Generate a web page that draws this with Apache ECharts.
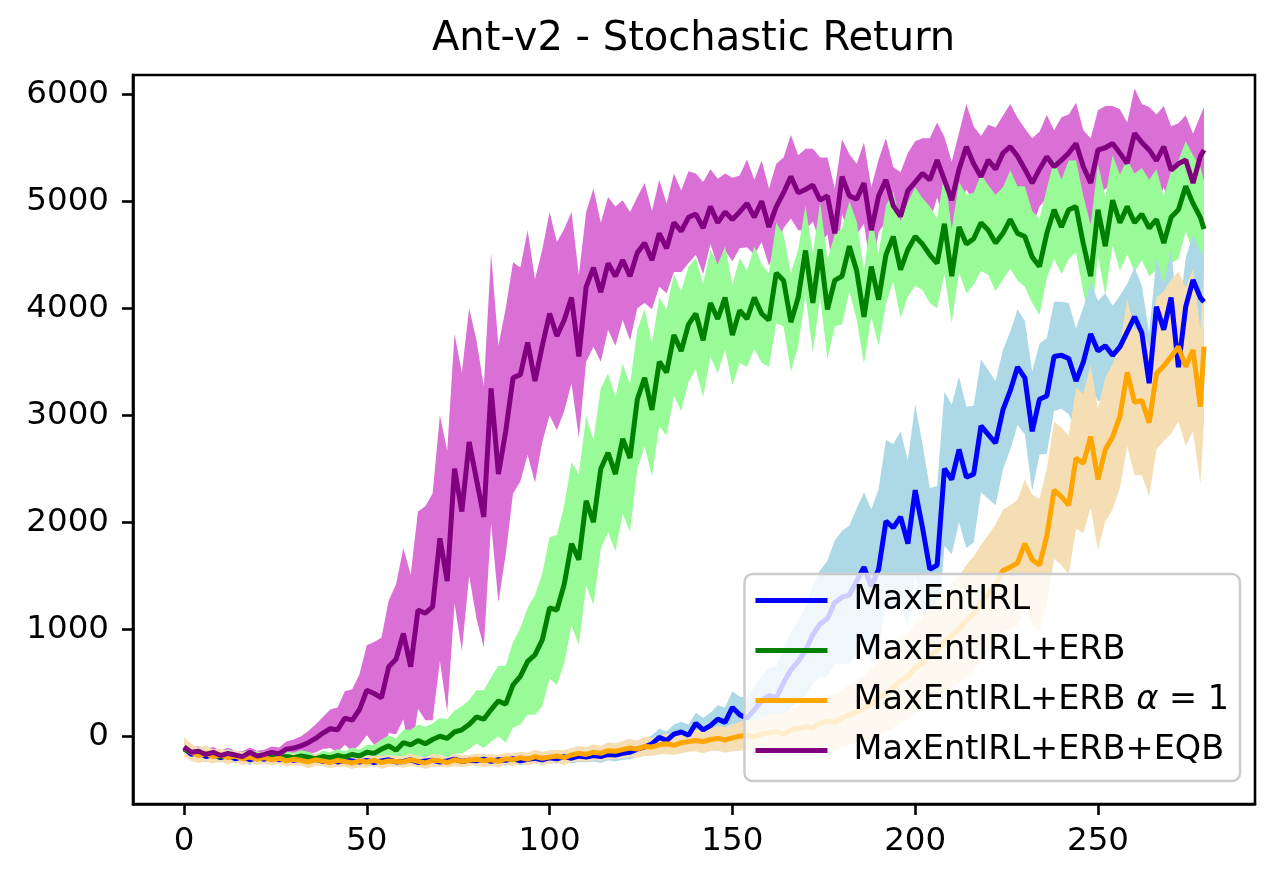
<!DOCTYPE html>
<html>
<head>
<meta charset="utf-8">
<title>Ant-v2 - Stochastic Return</title>
<script src="https://cdn.jsdelivr.net/npm/echarts@6/dist/echarts.min.js"></script>
<style>
  html, body { margin: 0; padding: 0; background: #fff; }
  #chart { width: 1280px; height: 885px; }
</style>
</head>
<body>
<div id="chart"></div>
<script>
// Training iterations (every second one, plus the last)
const steps = [
  0, 2, 4, 6, 8, 10, 12, 14, 16, 18, 20, 22, 24, 26, 28, 30, 32, 34, 36, 38,
  40, 42, 44, 46, 48, 50, 52, 54, 56, 58, 60, 62, 64, 66, 68, 70, 72, 74, 76, 78,
  80, 82, 84, 86, 88, 90, 92, 94, 96, 98, 100, 102, 104, 106, 108, 110, 112, 114, 116, 118,
  120, 122, 124, 126, 128, 130, 132, 134, 136, 138, 140, 142, 144, 146, 148, 150, 152, 154, 156, 158,
  160, 162, 164, 166, 168, 170, 172, 174, 176, 178, 180, 182, 184, 186, 188, 190, 192, 194, 196, 198,
  200, 202, 204, 206, 208, 210, 212, 214, 216, 218, 220, 222, 224, 226, 228, 230, 232, 234, 236, 238,
  240, 242, 244, 246, 248, 250, 252, 254, 256, 258, 260, 262, 264, 266, 268, 270, 272, 274, 276, 278, 279
];
const xTicks = [0, 50, 100, 150, 200, 250];
const yTicks = [0, 1000, 2000, 3000, 4000, 5000, 6000];

const names = ['MaxEntIRL', 'MaxEntIRL+ERB', 'MaxEntIRL+ERB alpha=1', 'MaxEntIRL+ERB+EQB'];

// MaxEntIRL
const meanBase = [
  -110, -170, -150, -190, -170, -200, -180, -210, -190, -220,
  -200, -215, -190, -220, -205, -225, -210, -230, -215, -235,
  -220, -240, -225, -230, -240, -225, -245, -230, -220, -240,
  -235, -220, -245, -230, -225, -240, -230, -215, -235, -225,
  -230, -215, -235, -220, -225, -210, -230, -215, -205, -220,
  -200, -210, -190, -205, -185, -195, -180, -190, -170, -175,
  -160, -150, -120, -100, -70, -10, -40, 20, 40, 10,
  120, 60, 100, 160, 130, 270, 200, 170, 250, 330,
  380, 360, 500, 620, 700, 800, 950, 1050, 1100, 1250,
  1300, 1320, 1450, 1580, 1400, 1560, 2010, 1950, 2050, 1800,
  2300, 1950, 1560, 1600, 2500, 2400, 2680, 2420, 2450, 2900,
  2820, 2740, 3050, 3230, 3450, 3350, 2850, 3150, 3180, 3550,
  3560, 3530, 3320, 3500, 3760, 3600, 3650, 3560, 3640, 3780,
  3920, 3770, 3300, 4015, 3800, 4100, 3450, 4015, 4264, 4100, 4060
];
const spreadBase = [
  60, 55, 50, 55, 50, 45, 50, 40, 45, 50,
  40, 45, 50, 40, 45, 40, 45, 40, 50, 45,
  40, 45, 50, 40, 45, 45, 40, 50, 45, 40,
  45, 40, 45, 50, 40, 45, 40, 50, 45, 40,
  45, 50, 40, 45, 50, 45, 40, 50, 45, 50,
  50, 45, 55, 50, 55, 50, 55, 60, 55, 60,
  60, 65, 70, 75, 80, 80, 85, 90, 95, 100,
  100, 110, 120, 130, 140, 150, 170, 190, 210, 230,
  260, 290, 320, 350, 380, 420, 460, 500, 540, 580,
  620, 650, 680, 700, 720, 750, 760, 780, 800, 780,
  800, 780, 760, 740, 720, 700, 680, 660, 640, 620,
  600, 580, 560, 550, 540, 530, 560, 520, 540, 510,
  500, 520, 490, 510, 480, 470, 490, 460, 480, 450,
  460, 440, 470, 450, 430, 450, 430, 460, 420, 440, 430
];

// MaxEntIRL+ERB
const meanErb = [
  -120, -150, -170, -160, -180, -190, -170, -185, -200, -180,
  -190, -200, -185, -195, -190, -200, -185, -195, -210, -190,
  -200, -180, -195, -170, -185, -150, -160, -120, -90, -130,
  -60, -80, -40, -70, -30, 0, -20, 40, 60, 110,
  180, 160, 250, 330, 300, 480, 560, 700, 760, 900,
  1200, 1180, 1420, 1800, 1650, 2200, 2000, 2500, 2650, 2450,
  2780, 2600, 3150, 3350, 3050, 3500, 3400, 3750, 3600, 3850,
  3950, 3700, 4050, 3900, 4100, 3750, 3980, 3900, 4100, 3950,
  3890, 4330, 4260, 3870, 4100, 4540, 4050, 4550, 3990, 4260,
  4300, 4580, 4350, 3920, 4390, 4080, 4500, 4670, 4360, 4550,
  4670, 4600, 4500, 4420, 4790, 4300, 4760, 4600, 4650, 4800,
  4730, 4610, 4700, 4830, 4700, 4670, 4480, 4390, 4700, 4920,
  4760, 4920, 4950, 4600, 4300, 4920, 4580, 5010, 4800, 4950,
  4800, 4880, 4750, 4830, 4610, 4850, 4920, 5140, 4980, 4850, 4740
];
const spreadErb = [
  50, 45, 55, 40, 50, 45, 50, 40, 55, 45,
  50, 40, 55, 45, 50, 45, 55, 50, 40, 55,
  50, 60, 55, 65, 60, 70, 80, 90, 100, 110,
  120, 140, 150, 160, 150, 170, 180, 200, 220, 230,
  250, 270, 300, 330, 360, 400, 450, 500, 560, 620,
  660, 700, 740, 760, 800, 790, 770, 750, 740, 720,
  700, 690, 650, 640, 620, 600, 590, 570, 560, 540,
  520, 530, 500, 510, 480, 470, 490, 450, 480, 460,
  440, 470, 430, 460, 450, 420, 460, 440, 470, 430,
  450, 420, 460, 440, 470, 430, 460, 420, 450, 440,
  460, 430, 450, 420, 470, 440, 420, 460, 430, 450,
  420, 450, 430, 460, 440, 470, 430, 450, 420, 460,
  440, 460, 430, 450, 480, 430, 460, 420, 450, 440,
  460, 430, 450, 470, 440, 430, 460, 420, 450, 470, 450
];

// MaxEntIRL+ERB alpha=1
const meanAlpha = [
  -100, -150, -180, -160, -190, -175, -200, -185, -210, -195,
  -215, -200, -220, -205, -230, -215, -225, -240, -220, -230,
  -245, -225, -235, -250, -230, -240, -225, -245, -230, -235,
  -240, -220, -235, -250, -225, -230, -245, -220, -235, -225,
  -215, -230, -220, -235, -210, -220, -200, -215, -190, -205,
  -195, -185, -200, -175, -160, -170, -150, -160, -135, -140,
  -125, -110, -120, -95, -100, -80, -70, -85, -60, -50,
  -40, -50, -30, -20, -35, -15, 0, 10, -5, 20,
  30, 45, 20, 60, 70, 90, 80, 120, 140, 130,
  170, 200, 230, 260, 300, 360, 400, 450, 520, 560,
  640, 680, 760, 800, 880, 940, 1000, 1080, 1150, 1250,
  1330, 1420, 1550, 1580, 1620, 1800, 1650, 1600, 1870, 2300,
  2240, 2160, 2600, 2550, 2800, 2400, 2680, 2800, 2990, 3400,
  3120, 3140, 2930, 3390, 3460, 3548, 3641, 3454, 3610, 3080, 3641
];
const spreadAlpha = [
  90, 80, 70, 75, 65, 60, 65, 55, 60, 55,
  55, 60, 50, 55, 50, 55, 50, 60, 55, 50,
  55, 60, 50, 55, 60, 55, 50, 60, 55, 50,
  55, 60, 50, 55, 60, 55, 50, 60, 55, 50,
  55, 60, 55, 60, 55, 60, 55, 60, 65, 60,
  65, 60, 70, 65, 70, 70, 75, 70, 80, 75,
  80, 85, 80, 90, 85, 90, 95, 90, 100, 95,
  100, 110, 105, 115, 120, 125, 135, 140, 150, 160,
  170, 180, 190, 200, 210, 220, 230, 240, 250, 260,
  270, 280, 300, 310, 330, 340, 360, 370, 390, 400,
  420, 430, 450, 460, 480, 490, 500, 520, 530, 540,
  550, 560, 570, 580, 590, 600, 610, 620, 630, 640,
  640, 650, 660, 650, 670, 660, 670, 680, 670, 690,
  680, 700, 690, 710, 700, 720, 700, 740, 760, 720, 700
];

// MaxEntIRL+ERB+EQB
const meanEqb = [
  -100, -150, -140, -170, -150, -180, -160, -175, -190, -150,
  -185, -170, -150, -165, -120, -110, -90, -60, -20, 30,
  70, 60, 170, 150, 250, 430, 400, 360, 650, 720,
  960, 650, 1180, 1150, 1210, 1850, 1450, 2500, 2100, 2750,
  2400, 2050, 3250, 2450, 2850, 3350, 3380, 3680, 3320, 3650,
  3950, 3740, 3890, 4100, 3550, 4200, 4380, 4150, 4420, 4300,
  4450, 4300, 4520, 4610, 4450, 4700, 4560, 4800, 4720, 4850,
  4880, 4750, 4950, 4800, 4900, 4830, 4900, 4980, 4850, 5000,
  4760, 4950, 5080, 5230, 5080, 5110, 5150, 5010, 5050, 4700,
  5230, 5050, 5020, 5170, 4730, 5050, 5200, 4960, 4860, 5100,
  5180, 5260, 5200, 5385, 5200, 5010, 5300, 5510, 5350, 5230,
  5385, 5300, 5450, 5510, 5420, 5300, 5170, 5300, 5417, 5323,
  5385, 5450, 5540, 5323, 5170, 5480, 5500, 5540, 5450, 5355,
  5635, 5550, 5480, 5380, 5510, 5292, 5350, 5385, 5170, 5420, 5480
];
const spreadEqb = [
  50, 60, 45, 55, 50, 45, 55, 40, 50, 45,
  50, 45, 55, 60, 70, 80, 90, 110, 130, 150,
  180, 210, 250, 290, 330, 420, 480, 560, 620, 700,
  800, 860, 920, 1000, 1060, 1150, 1220, 1260, 1300, 1250,
  1300, 1220, 1260, 1200, 1150, 1080, 1000, 1050, 950, 900,
  950, 880, 850, 800, 760, 700, 740, 650, 620, 650,
  560, 600, 520, 560, 460, 500, 420, 460, 380, 430,
  380, 430, 350, 410, 360, 390, 340, 410, 350, 380,
  360, 400, 330, 390, 350, 380, 340, 400, 360, 420,
  350, 390, 330, 380, 400, 340, 390, 360, 410, 350,
  380, 330, 390, 350, 400, 360, 340, 400, 350, 380,
  330, 390, 350, 400, 360, 380, 420, 350, 390, 340,
  400, 360, 380, 340, 420, 370, 390, 350, 410, 380,
  420, 360, 400, 430, 380, 410, 380, 420, 460, 380, 400
];

const lineColors = ['#0000ff', '#008000', '#ffa500', '#800080'];
const bandColors = ['#add8e6', '#98fb98', '#f5deb3', '#da70d6'];
const FONT = 'DejaVu Sans';

function pairs(values) {
  return steps.map((x, i) => [x, values[i]]);
}

// fill_between: one polygon per band, drawn through the grid's own coord()
function bandSeries(mean, spread, color) {
  const lower = mean.map((m, i) => m - spread[i]);
  const upper = mean.map((m, i) => m + spread[i]);
  return {
    type: 'custom', silent: true, z: 2,
    data: steps.map((x, i) => [x, lower[i], upper[i]]),
    encode: { x: 0, y: [1, 2] },
    renderItem: (params, api) => {
      if (params.dataIndex !== 0) return null;
      const top = steps.map((x, i) => api.coord([x, upper[i]]));
      const bottom = steps.map((x, i) => api.coord([x, lower[i]])).reverse();
      return {
        type: 'polygon',
        shape: { points: top.concat(bottom) },
        style: { fill: color, stroke: null }
      };
    }
  };
}

function lineSeries(name, mean, color) {
  return {
    name, type: 'line', data: pairs(mean), symbol: 'none',
    lineStyle: { color, width: 5 }, itemStyle: { color }, z: 3
  };
}

const series = [
  bandSeries(meanEqb, spreadEqb, bandColors[3]),
  bandSeries(meanErb, spreadErb, bandColors[1]),
  bandSeries(meanBase, spreadBase, bandColors[0]),
  bandSeries(meanAlpha, spreadAlpha, bandColors[2]),
  lineSeries(names[0], meanBase, lineColors[0]),
  lineSeries(names[1], meanErb, lineColors[1]),
  lineSeries(names[2], meanAlpha, lineColors[2]),
  lineSeries(names[3], meanEqb, lineColors[3]),
];

const chart = echarts.init(document.getElementById('chart'), null, { renderer: 'canvas' });

chart.setOption({
  animation: false,
  backgroundColor: '#ffffff',
  title: {
    text: 'Ant-v2 - Stochastic Return',
    left: 432, top: 20, padding: 0,
    textStyle: { fontFamily: FONT, fontSize: 40, fontWeight: 'normal', color: '#000' }
  },
  grid: {
    left: 133, right: 25, top: 75, bottom: 81,
    show: true, borderColor: '#000', borderWidth: 2.6, backgroundColor: 'transparent'
  },
  xAxis: {
    type: 'value', min: -13.95, max: 292.95,
    axisLine: { show: true, onZero: false, lineStyle: { color: '#000', width: 2.6 } },
    axisTick: { show: true, customValues: xTicks, length: 11, lineStyle: { color: '#000', width: 2.6 } },
    axisLabel: {
      customValues: xTicks, margin: 21, fontFamily: FONT, fontSize: 32.5, color: '#000',
      formatter: (v) => String(v)
    },
    splitLine: { show: false }
  },
  yAxis: {
    type: 'value', min: -633, max: 6180,
    axisLine: { show: true, onZero: false, lineStyle: { color: '#000', width: 2.6 } },
    axisTick: { show: true, customValues: yTicks, length: 11, lineStyle: { color: '#000', width: 2.6 } },
    axisLabel: {
      customValues: yTicks, margin: 24, fontFamily: FONT, fontSize: 32.5, color: '#000',
      formatter: (v) => String(v)
    },
    splitLine: { show: false }
  },
  legend: {
    data: names,
    orient: 'vertical',
    right: 40, bottom: 104,
    icon: 'rect', itemWidth: 72, itemHeight: 5, itemGap: 15,
    padding: [9, 11, 13, 11],
    backgroundColor: 'rgba(255,255,255,0.8)',
    borderColor: '#cccccc', borderWidth: 2.5, borderRadius: 8,
    z: 10,
    formatter: (name) => name === names[2] ? 'MaxEntIRL+ERB {a|\u03b1} = 1' : name,
    textStyle: {
      fontFamily: FONT, fontSize: 33.5, color: '#000', lineHeight: 35,
      padding: [0, 0, 0, 21],
      rich: { a: { fontFamily: FONT, fontStyle: 'italic', fontSize: 33.5, lineHeight: 35 } }
    }
  },
  series
});
</script>
</body>
</html>
